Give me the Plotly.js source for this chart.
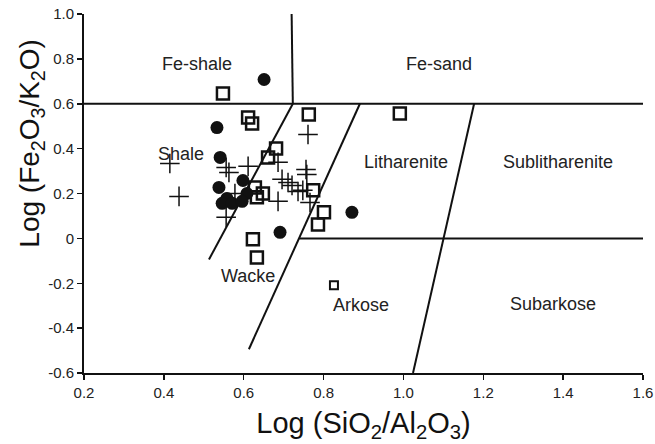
<!DOCTYPE html>
<html>
<head>
<meta charset="utf-8">
<script src="https://cdn.plot.ly/plotly-3.0.1.min.js"></script>
<style>html,body{margin:0;padding:0;background:#fff;}#chart{width:655px;height:444px;}</style>
</head>
<body>
<div id="chart"></div>
<script>
// Sample series: log(SiO2/Al2O3) (x) and log(Fe2O3/K2O) (y)
const circleX = [0.651, 0.533, 0.541, 0.598, 0.538, 0.608, 0.558, 0.546, 0.571, 0.596, 0.691, 0.871];
const circleY = [0.708, 0.494, 0.361, 0.258, 0.227, 0.200, 0.178, 0.156, 0.156, 0.165, 0.027, 0.116];

const squareX = [0.548, 0.611, 0.621, 0.763, 0.991, 0.681, 0.661, 0.628, 0.648, 0.633, 0.774, 0.801, 0.786, 0.623, 0.633];
const squareY = [0.646, 0.539, 0.512, 0.552, 0.557, 0.401, 0.361, 0.227, 0.200, 0.183, 0.214, 0.116, 0.062, -0.004, -0.085];

const smallSquareX = [0.826];
const smallSquareY = [-0.209];

const plusX = [0.415, 0.438, 0.556, 0.563, 0.611, 0.686, 0.761, 0.756, 0.758, 0.696, 0.711, 0.721, 0.736, 0.748, 0.766, 0.686, 0.578, 0.556];
const plusY = [0.334, 0.187, 0.316, 0.294, 0.321, 0.339, 0.463, 0.307, 0.285, 0.263, 0.249, 0.236, 0.209, 0.214, 0.160, 0.165, 0.200, 0.094];

// Classification field boundaries (Herron 1988)
const boundaryFeX = [0.2, 1.6];        const boundaryFeY = [0.6, 0.6];
const boundaryTopX = [0.720, 0.723];   const boundaryTopY = [1.0, 0.6];
const boundaryShaleX = [0.723, 0.513]; const boundaryShaleY = [0.6, -0.094];
const boundaryWackeX = [0.891, 0.613]; const boundaryWackeY = [0.6, -0.494];
const boundaryLithX = [1.177, 1.024];  const boundaryLithY = [0.6, -0.6];
const boundaryArkX = [0.739, 1.6];     const boundaryArkY = [0.0, 0.0];

// Field labels
const fieldNames = ["Fe-shale", "Fe-sand", "Shale", "Litharenite", "Sublitharenite", "Wacke", "Arkose", "Subarkose"];
const fieldX = [0.483, 1.089, 0.443, 1.006, 1.387, 0.611, 0.894, 1.375];
const fieldY = [0.775, 0.775, 0.374, 0.339, 0.339, -0.169, -0.298, -0.294];

const xTicks = [0.2, 0.4, 0.6, 0.8, 1.0, 1.2, 1.4, 1.6];
const xTickText = ["0.2", "0.4", "0.6", "0.8", "1.0", "1.2", "1.4", "1.6"];
const yTicks = [-0.6, -0.4, -0.2, 0, 0.2, 0.4, 0.6, 0.8, 1.0];
const yTickText = ["-0.6", "-0.4", "-0.2", "0", "0.2", "0.4", "0.6", "0.8", "1.0"];

const xTitle = 'Log (SiO<sub>2</sub>/Al<sub>2</sub>O<sub>3</sub>)';
const yTitle = 'Log (Fe<sub>2</sub>O<sub>3</sub>/K<sub>2</sub>O)';

const FONT = 'Liberation Sans, Arial, sans-serif';
const lineStyle = {color: '#111', width: 2};
function bline(x, y) {
  return {x: x, y: y, mode: 'lines', type: 'scatter', line: lineStyle, hoverinfo: 'skip', showlegend: false, cliponaxis: false};
}

const traces = [
  bline(boundaryFeX, boundaryFeY),
  bline(boundaryTopX, boundaryTopY),
  bline(boundaryShaleX, boundaryShaleY),
  bline(boundaryWackeX, boundaryWackeY),
  bline(boundaryLithX, boundaryLithY),
  bline(boundaryArkX, boundaryArkY),
  {x: plusX, y: plusY, mode: 'markers', type: 'scatter', showlegend: false,
   marker: {symbol: 'cross-thin-open', size: 14, color: '#111', line: {color: '#111', width: 1.5}}},
  {x: squareX, y: squareY, mode: 'markers', type: 'scatter', showlegend: false,
   marker: {symbol: 'square-open', size: 12, color: '#111', line: {color: '#111', width: 2.5}}},
  {x: smallSquareX, y: smallSquareY, mode: 'markers', type: 'scatter', showlegend: false,
   marker: {symbol: 'square-open', size: 8, color: '#111', line: {color: '#111', width: 2}}},
  {x: circleX, y: circleY, mode: 'markers', type: 'scatter', showlegend: false,
   marker: {symbol: 'circle', size: 13, color: '#111', line: {width: 0}}}
];

const annotations = fieldNames.map((t, i) => ({
  x: fieldX[i], y: fieldY[i], xref: 'x', yref: 'y', text: t, showarrow: false,
  font: {family: FONT, size: 18, color: '#222'}
}));
// y-axis title (placed like the reference, above the plot centre)
annotations.push({
  xref: 'paper', yref: 'paper', x: -0.094, y: 0.64, xanchor: 'center', yanchor: 'middle',
  text: yTitle, textangle: -90, showarrow: false,
  font: {family: FONT, size: 28, color: '#111'}
});

const layout = {
  width: 655, height: 444,
  margin: {l: 84, r: 12, t: 14, b: 71},
  paper_bgcolor: '#fff', plot_bgcolor: '#fff',
  font: {family: FONT, color: '#222'},
  showlegend: false,
  xaxis: {
    range: [0.2, 1.6], tickvals: xTicks, ticktext: xTickText,
    showgrid: false, zeroline: false, showline: true, linecolor: '#111', linewidth: 2,
    ticks: 'outside', ticklen: 5, tickwidth: 1.5, tickcolor: '#111',
    tickfont: {size: 15, color: '#222'},
    title: {text: xTitle, font: {size: 29, color: '#111'}, standoff: 13}
  },
  yaxis: {
    range: [-0.6, 1.0], tickvals: yTicks, ticktext: yTickText,
    showgrid: false, zeroline: false, showline: true, linecolor: '#111', linewidth: 2,
    ticks: 'outside', ticklen: 5, tickwidth: 1.5, tickcolor: '#111',
    tickfont: {size: 15, color: '#222'}
  },
  annotations: annotations
};

Plotly.newPlot('chart', traces, layout, {displayModeBar: false, staticPlot: true});
</script>
</body>
</html>
